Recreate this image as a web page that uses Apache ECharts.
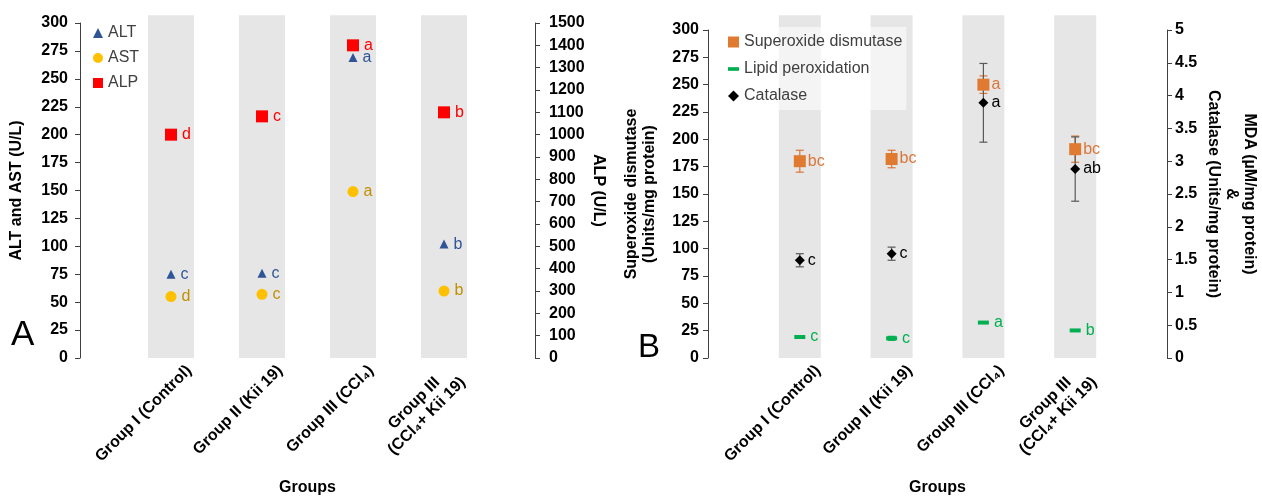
<!DOCTYPE html>
<html><head><meta charset="utf-8">
<script src="https://cdn.jsdelivr.net/npm/echarts@6/dist/echarts.min.js"></script>
<style>html,body{margin:0;padding:0;background:#fff}#c{width:1262px;height:498px}</style>
</head><body><div id="c"></div>
<script>
// ---------- data ----------
const groups = ['Group I (Control)', 'Group II (Kii 19)', 'Group III (CCl₄)', 'Group III\n(CCl₄+ Kii 19)'];
// Panel A
const altValues = [75, 76, 269, 102];
const altLetters = ['c', 'c', 'a', 'b'];
const astValues = [55, 57, 149, 60];
const astLetters = ['d', 'c', 'a', 'b'];
const alpValues = [1000, 1082, 1400, 1100];
const alpLetters = ['d', 'c', 'a', 'b'];
// Panel B
const sodValues = [180, 182, 250, 191];
const sodErrors = [10, 8, 8, 12];
const sodLetters = ['bc', 'bc', 'a', 'bc'];
const mdaValues = [0.32, 0.30, 0.54, 0.42];
const mdaErrors = [0.02, 0.03, 0.01, 0.01];
const mdaLetters = ['c', 'c', 'a', 'b'];
const catValues = [1.49, 1.59, 3.89, 2.88];
const catErrors = [0.1, 0.1, 0.6, 0.49];
const catLetters = ['c', 'c', 'a', 'ab'];

// ---------- helpers ----------
const FONT = 'Arial, "Liberation Sans", sans-serif';
const cats = [''].concat(groups.map((g, i) => 'g' + i)).concat(['']);
const pts = arr => arr.map((v, i) => [i + 1, v]);
const AXC = '#404040';

function groupLabel(v) {
  const r = Math.round(v * 1000) / 1000;
  if (Number.isInteger(r) && r >= 1 && r <= groups.length) {
    const g = groups[r - 1];
    if (g.indexOf('\n') >= 0) return g.split('\n').map(s => '{m|' + s + '}').join('\n');
    return g;
  }
  return '';
}

function yAxisDef(grid, pos, min, max, interval, name, gap, rotate, margin) {
  return {
    type: 'value', gridIndex: grid, position: pos, min: min, max: max, interval: interval,
    axisLine: {show: true, onZero: false, lineStyle: {color: AXC, width: 1}},
    axisTick: {show: true, length: 5, lineStyle: {color: AXC}},
    splitLine: {show: false},
    axisLabel: {color: '#000', fontWeight: 'bold', fontSize: 16, fontFamily: FONT, margin: margin,
      formatter: v => String(Math.round(v * 100) / 100)},
    name: name, nameLocation: 'middle', nameGap: gap, nameRotate: rotate,
    nameTextStyle: {color: '#000', fontWeight: 'bold', fontSize: 16, fontFamily: FONT, lineHeight: 18}
  };
}

function bandSeries(xi, yi, top, width) {
  return {
    type: 'bar', xAxisIndex: xi, yAxisIndex: yi, silent: true, clip: false, z: 0,
    barWidth: width, itemStyle: {color: '#e6e6e6'},
    data: [null].concat(groups.map(() => top)).concat([null])
  };
}

function scatterSeries(name, xi, yi, values, letters, symbol, size, color, labelColor, dist) {
  return {
    type: 'scatter', name: name, xAxisIndex: xi, yAxisIndex: yi, z: 5,
    symbol: symbol, symbolSize: size, itemStyle: {color: color, opacity: 1},
    label: {show: true, position: 'right', distance: dist, color: labelColor, fontSize: 16, fontFamily: FONT,
      formatter: p => letters[p.dataIndex]},
    data: pts(values)
  };
}

function errorSeries(xi, yi, values, errors, color) {
  return {
    type: 'custom', xAxisIndex: xi, yAxisIndex: yi, silent: true, z: 3,
    data: values.map((v, i) => [i + 1, v - errors[i], v + errors[i]]),
    renderItem: function (params, api) {
      const x = api.value(0);
      const lo = api.coord([x, api.value(1)]);
      const hi = api.coord([x, api.value(2)]);
      const w = 4;
      const st = {stroke: color, lineWidth: 1.2};
      return {type: 'group', children: [
        {type: 'line', shape: {x1: lo[0], y1: lo[1], x2: hi[0], y2: hi[1]}, style: st},
        {type: 'line', shape: {x1: lo[0] - w, y1: lo[1], x2: lo[0] + w, y2: lo[1]}, style: st},
        {type: 'line', shape: {x1: hi[0] - w, y1: hi[1], x2: hi[0] + w, y2: hi[1]}, style: st}
      ]};
    }
  };
}

function catAxis(grid) {
  return {type: 'category', gridIndex: grid, data: cats, boundaryGap: false,
    axisLine: {show: false, onZero: false}, axisTick: {show: false}, axisLabel: {show: false}, splitLine: {show: false}};
}
function labelAxis(grid) {
  return {
    type: 'value', gridIndex: grid, position: 'bottom', min: -0.2, max: 4.8, interval: 0.2,
    axisLine: {show: false, onZero: false}, axisTick: {show: false}, splitLine: {show: false},
    axisLabel: {show: true, rotate: 45, margin: 10, color: '#000', fontWeight: 'bold', fontSize: 16,
      fontFamily: FONT, formatter: groupLabel, lineHeight: 18,
      rich: {m: {width: 118, align: 'center', fontWeight: 'bold', fontSize: 16, fontFamily: FONT, color: '#000', lineHeight: 18}}},
    name: 'Groups', nameLocation: 'middle', nameGap: 122,
    nameTextStyle: {color: '#000', fontWeight: 'bold', fontSize: 16, fontFamily: FONT}
  };
}

const mdaPath = 'path://M0,0H12V4H0Z';

const option = {
  animation: false,
  backgroundColor: '#fff',
  grid: [
    {left: 80, top: 23, width: 455, height: 335, containLabel: false, outerBoundsMode: 'none'},
    {left: 708, top: 30, width: 459, height: 328, containLabel: false, outerBoundsMode: 'none'}
  ],
  xAxis: [catAxis(0), labelAxis(0), catAxis(1), labelAxis(1)],
  yAxis: [
    yAxisDef(0, 'left', 0, 300, 25, 'ALT and AST (U/L)', 54, 90, 12),
    yAxisDef(0, 'right', 0, 1500, 100, 'ALP (U/L)', 54, -90, 14),
    yAxisDef(1, 'left', 0, 300, 25, 'Superoxide dismutase\n(Units/mg protein)', 49, 90, 9),
    yAxisDef(1, 'right', 0, 5, 0.5, 'MDA (µM/mg protein)\n&\nCatalase (Units/mg protein)', 37, -90, 8)
  ],
  legend: [
    {orient: 'vertical', left: 88, top: 20, itemWidth: 10, itemHeight: 10, itemGap: 9,
      textStyle: {fontSize: 16, color: '#404040', fontFamily: FONT},
      data: ['ALT', 'AST', 'ALP']},
    {orient: 'vertical', left: 724, top: 27, itemWidth: 11, itemHeight: 11, itemGap: 11,
      padding: [7, 4, 6, 4], backgroundColor: 'rgba(255,255,255,0.55)',
      textStyle: {fontSize: 16, color: '#404040', fontFamily: FONT},
      data: ['Superoxide dismutase', {name: 'Lipid peroxidation', icon: mdaPath}, 'Catalase']}
  ],
  graphic: [
    {type: 'text', left: 11, top: 318, style: {text: 'A', fontSize: 35, fontFamily: FONT, fill: '#000'}},
    {type: 'text', left: 638, top: 331, style: {text: 'B', fontSize: 33, fontFamily: FONT, fill: '#000'}}
  ],
  series: [
    bandSeries(0, 0, 307, 46),
    scatterSeries('ALT', 0, 0, altValues, altLetters, 'triangle', 9, '#2f5597', '#2f5597', 5),
    scatterSeries('AST', 0, 0, astValues, astLetters, 'circle', 11, '#ffc000', '#bf9000', 5),
    scatterSeries('ALP', 0, 1, alpValues, alpLetters, 'rect', 12, '#ff0000', '#ff0000', 5),

    bandSeries(2, 2, 313.5, 42),
    errorSeries(2, 2, sodValues, sodErrors, '#d9773a'),
    errorSeries(2, 3, catValues, catErrors, '#595959'),
    errorSeries(2, 3, mdaValues, mdaErrors, '#00b050'),
    scatterSeries('Superoxide dismutase', 2, 2, sodValues, sodLetters, 'rect', 12, '#e07a30', '#d9773a', 2),
    scatterSeries('Lipid peroxidation', 2, 3, mdaValues, mdaLetters, mdaPath, [11, 4], '#00b050', '#00b050', 5),
    scatterSeries('Catalase', 2, 3, catValues, catLetters, 'diamond', 10, '#000', '#000', 3)
  ]
};

const chart = echarts.init(document.getElementById('c'), null, {renderer: 'canvas'});
chart.setOption(option);
</script>
</body></html>
